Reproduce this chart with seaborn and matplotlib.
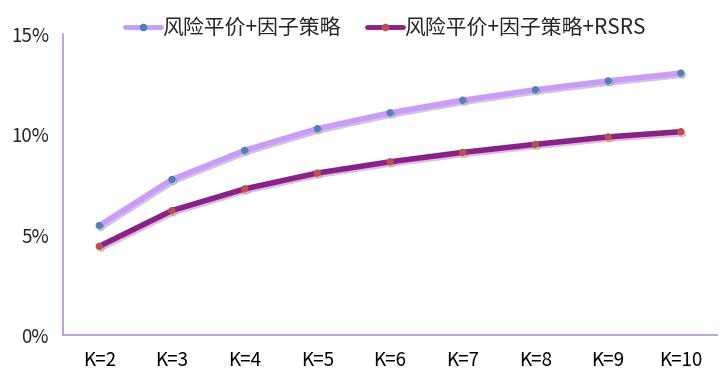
import numpy as np
import pandas as pd
import seaborn as sns
import matplotlib.pyplot as plt
import matplotlib.patheffects as pe
from matplotlib.ticker import FixedLocator, PercentFormatter

sns.set_style("white")
plt.rcParams["font.family"] = ["Noto Sans CJK SC", "DejaVu Sans"]

# data
k_labels = ["K=2", "K=3", "K=4", "K=5", "K=6", "K=7", "K=8", "K=9", "K=10"]
series_names = ["风险平价+因子策略", "风险平价+因子策略+RSRS"]
rp_factor = [5.45, 7.75, 9.2, 10.28, 11.07, 11.7, 12.22, 12.66, 13.05]
rp_factor_rsrs = [4.42, 6.2, 7.28, 8.07, 8.63, 9.1, 9.5, 9.87, 10.13]

df = pd.DataFrame({
    "k": k_labels * 2,
    "value": rp_factor + rp_factor_rsrs,
    "series": [series_names[0]] * len(k_labels) + [series_names[1]] * len(k_labels),
})

line_colors = {series_names[0]: "#CC99FF", series_names[1]: "#8E1E8E"}
marker_colors = {series_names[0]: "#4F81BD", series_names[1]: "#C0504D"}

fig = plt.figure(figsize=(7.23, 3.9), dpi=100)
ax = fig.add_axes([0.087, 0.141, 0.905, 0.772])

sns.lineplot(data=df, x="k", y="value", hue="series", palette=line_colors,
             linewidth=4, marker="o", markersize=4.5, legend=False, ax=ax,
             sort=False)

shadow = [pe.SimpleLineShadow(offset=(1.2, -1.5), alpha=0.3, shadow_color="#555555"),
          pe.Normal()]
for line, name in zip(ax.lines, series_names):
    line.set_markerfacecolor(marker_colors[name])
    line.set_markeredgecolor(marker_colors[name])
    line.set_path_effects(shadow)

ax.set_xlim(-0.5, len(k_labels) - 0.5)
ax.set_ylim(0, 15)
ax.yaxis.set_major_locator(FixedLocator([0, 5, 10, 15]))
ax.yaxis.set_major_formatter(PercentFormatter(decimals=0))
ax.set_xlabel("")
ax.set_ylabel("")

# tick marks between categories, labels centred
ax.set_xticks(range(len(k_labels)))
ax.set_xticklabels(k_labels)
ax.set_xticks(np.arange(-0.5, len(k_labels)), minor=True)
ax.tick_params(axis="x", which="major", length=0, pad=11, labelsize=13.5, colors="#000000")
ax.tick_params(axis="x", which="minor", length=7, width=1, color="#B58FD9", direction="out")
ax.tick_params(axis="y", length=0, pad=10, labelsize=13.5)

for side in ["top", "right"]:
    ax.spines[side].set_visible(False)
for side in ["left", "bottom"]:
    ax.spines[side].set_color("#B58FD9")
    ax.spines[side].set_linewidth(1.2)

handles = []
for name in series_names:
    h, = ax.plot([], [], color=line_colors[name], linewidth=3.5, marker="o",
                 markersize=4.5, markerfacecolor=marker_colors[name],
                 markeredgecolor=marker_colors[name])
    handles.append(h)
fig.legend(handles, series_names, loc="upper center", bbox_to_anchor=(0.533, 1.005),
           ncol=2, frameon=False, fontsize=15, handlelength=1.7, handletextpad=0.05,
           columnspacing=1.3)

fig.savefig("out.png", dpi=100)
plt.close(fig)
